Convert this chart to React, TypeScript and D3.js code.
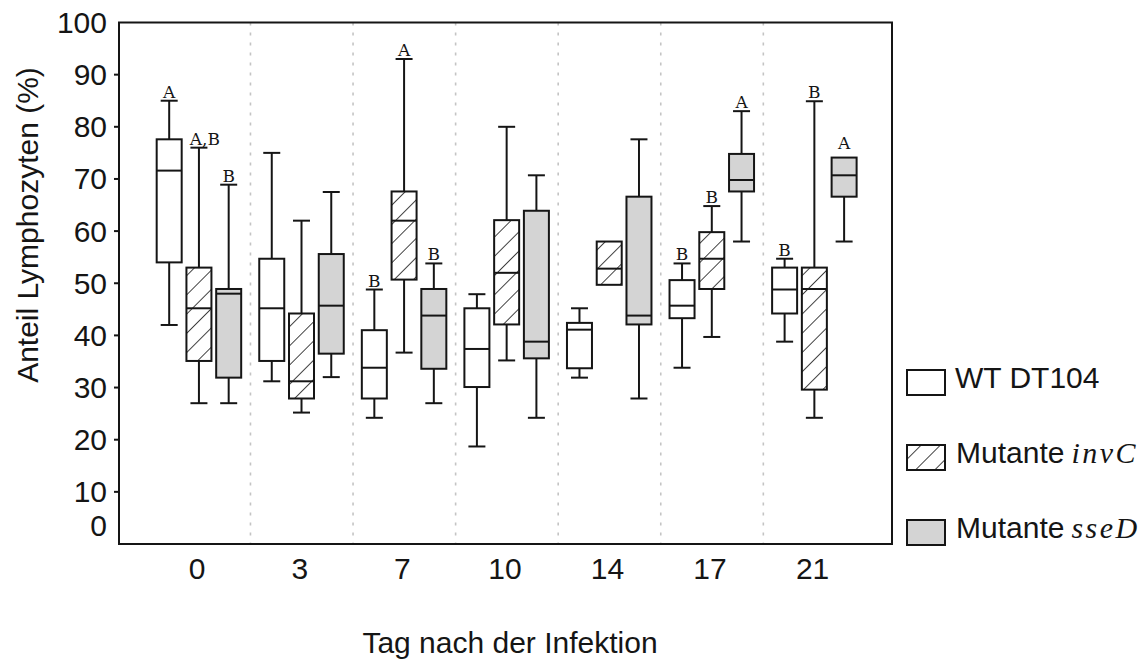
import React from "react";
import * as d3 from "d3";

// ---- data ----
const days = ["0", "3", "7", "10", "14", "17", "21"];
const seriesNames = ["WT DT104", "Mutante invC", "Mutante sseD"];
const yTicks = [0, 10, 20, 30, 40, 50, 60, 70, 80, 90, 100];

// [min, q1, median, q3, max] per day
const wtStats = [
  [42, 54, 71.6, 77.6, 85],
  [31.2, 35.1, 45.2, 54.7, 75],
  [24.2, 27.9, 33.8, 41, 48.8],
  [18.7, 30.1, 37.4, 45.2, 47.9],
  [31.9, 33.7, 41.1, 42.4, 45.2],
  [33.8, 43.3, 45.7, 50.6, 53.8],
  [38.8, 44.2, 48.8, 53, 54.7],
];
const invcStats = [
  [27, 35.1, 45.2, 53, 76],
  [25.2, 27.9, 31.2, 44.2, 62],
  [36.7, 50.7, 62, 67.6, 93],
  [35.2, 42.1, 52, 62.1, 80],
  [49.7, 49.7, 52.8, 58, 58],
  [39.7, 48.9, 54.7, 59.8, 64.8],
  [24.2, 29.6, 48.9, 53, 84.9],
];
const ssedStats = [
  [27, 31.9, 48, 48.9, 68.9],
  [32, 36.5, 45.7, 55.6, 67.5],
  [27, 33.6, 43.8, 48.9, 53.8],
  [24.2, 35.6, 38.8, 63.9, 70.7],
  [27.9, 42.1, 43.8, 66.6, 77.6],
  [58, 67.6, 69.8, 74.8, 83],
  [58, 66.6, 70.7, 74.1, 74.1],
];
const wtLetters = ["A", "", "B", "", "", "B", "B"];
const invcLetters = ["A,B", "", "A", "", "", "B", "B"];
const ssedLetters = ["B", "", "B", "", "", "A", "A"];

const allStats = [wtStats, invcStats, ssedStats];
const allLetters = [wtLetters, invcLetters, ssedLetters];
const fills = ["#ffffff", "url(#hatch)", "#d4d4d4"];

// ---- layout ----
const frame = { left: 119, top: 22.5, right: 892, bottom: 544 };
const INK = "#151515";
const SANS = "'Liberation Sans', Arial, sans-serif";

export default function App() {
  const x = d3.scaleBand<string>().domain(days).range([147.9, 865.9]);
  const sub = d3.scalePoint<string>().domain(seriesNames).range([-30, 29.5]);
  const y = d3.scaleLinear().domain([0, 100]).range([frame.bottom, frame.top]);
  const boxW = 25;
  const capW = 17;

  const separators = days.slice(1).map((d) => x(d)!);

  return (
    <svg
      width={1147}
      height={660}
      style={{ position: "absolute", left: 0, top: 0, background: "#fff" }}
    >
      <defs>
        <pattern
          id="hatch"
          patternUnits="userSpaceOnUse"
          width={13.6}
          height={13.6}
          patternTransform="rotate(45)"
        >
          <rect width={13.6} height={13.6} fill="#fff" />
          <line x1={0} y1={0} x2={0} y2={13.6} stroke={INK} strokeWidth={1.6} />
        </pattern>
      </defs>

      {/* separators */}
      {separators.map((sx, i) => (
        <line
          key={"sep" + i}
          x1={sx}
          x2={sx}
          y1={frame.top}
          y2={frame.bottom}
          stroke="#c4c4c4"
          strokeWidth={1.6}
          strokeDasharray="3,7"
        />
      ))}

      {/* boxes */}
      {allStats.map((stats, si) =>
        stats.map((s, di) => {
          const cx = x(days[di])! + x.bandwidth() / 2 + sub(seriesNames[si])!;
          const [mn, q1, md, q3, mx] = s;
          const letter = allLetters[si][di];
          return (
            <g key={`b${si}-${di}`} stroke={INK} strokeWidth={2}>
              {mx > q3 && (
                <>
                  <line x1={cx} x2={cx} y1={y(q3)} y2={y(mx)} />
                  <line x1={cx - capW / 2} x2={cx + capW / 2} y1={y(mx)} y2={y(mx)} />
                </>
              )}
              {mn < q1 && (
                <>
                  <line x1={cx} x2={cx} y1={y(q1)} y2={y(mn)} />
                  <line x1={cx - capW / 2} x2={cx + capW / 2} y1={y(mn)} y2={y(mn)} />
                </>
              )}
              <rect
                x={cx - boxW / 2}
                y={y(q3)}
                width={boxW}
                height={y(q1) - y(q3)}
                fill={fills[si]}
              />
              <line x1={cx - boxW / 2} x2={cx + boxW / 2} y1={y(md)} y2={y(md)} />
              {letter && (
                <text
                  x={cx + (letter.length > 1 ? 6 : 0)}
                  y={y(mx) - (mx > q3 ? 3 : 9)}
                  textAnchor="middle"
                  stroke="none"
                  fill={INK}
                  fontFamily="'DejaVu Serif', serif"
                  fontSize={17}
                >
                  {letter}
                </text>
              )}
            </g>
          );
        })
      )}

      {/* frame */}
      <rect
        x={frame.left}
        y={frame.top}
        width={frame.right - frame.left}
        height={frame.bottom - frame.top}
        fill="none"
        stroke={INK}
        strokeWidth={2}
      />

      {/* y axis ticks & labels */}
      {yTicks.map((t) => (
        <g key={"yt" + t}>
          {t > 0 && t < 100 && (
            <line
              x1={frame.left - 5}
              x2={frame.left}
              y1={y(t)}
              y2={y(t)}
              stroke={INK}
              strokeWidth={2}
            />
          )}
          <text
            x={107}
            y={(t === 0 ? y(t) - 19 : y(t)) + 10.5}
            textAnchor="end"
            fontFamily={SANS}
            fontSize={30}
            fill={INK}
          >
            {t}
          </text>
        </g>
      ))}

      {/* x labels */}
      {days.map((d) => (
        <text
          key={"xl" + d}
          x={x(d)! + x.bandwidth() / 2 - 2}
          y={579}
          textAnchor="middle"
          fontFamily={SANS}
          fontSize={30}
          fill={INK}
        >
          {d}
        </text>
      ))}

      {/* axis titles */}
      <text
        x={510}
        y={653}
        textAnchor="middle"
        fontFamily={SANS}
        fontSize={30}
        fill={INK}
      >
        Tag nach der Infektion
      </text>
      <text
        transform="translate(38,225) rotate(-90)"
        textAnchor="middle"
        fontFamily={SANS}
        fontSize={30}
        fill={INK}
      >
        Anteil Lymphozyten (%)
      </text>

      {/* legend */}
      {seriesNames.map((name, i) => {
        const top = 370 + i * 75;
        const parts = name.split(" ");
        return (
          <g key={"lg" + i}>
            <rect
              x={907}
              y={top}
              width={38}
              height={25}
              fill={fills[i]}
              stroke={INK}
              strokeWidth={2}
            />
            {i === 0 ? (
              <text x={955} y={top + 18} fontFamily={SANS} fontSize={30} fill={INK}>
                {name}
              </text>
            ) : (
              <text x={956} y={top + 18} fontFamily={SANS} fontSize={30} fill={INK}>
                {parts[0]}
                <tspan
                  dx={7}
                  fontFamily="'Liberation Serif', 'Times New Roman', serif"
                  fontStyle="italic"
                  letterSpacing={2.5}
                >
                  {parts[1]}
                </tspan>
              </text>
            )}
          </g>
        );
      })}
    </svg>
  );
}
